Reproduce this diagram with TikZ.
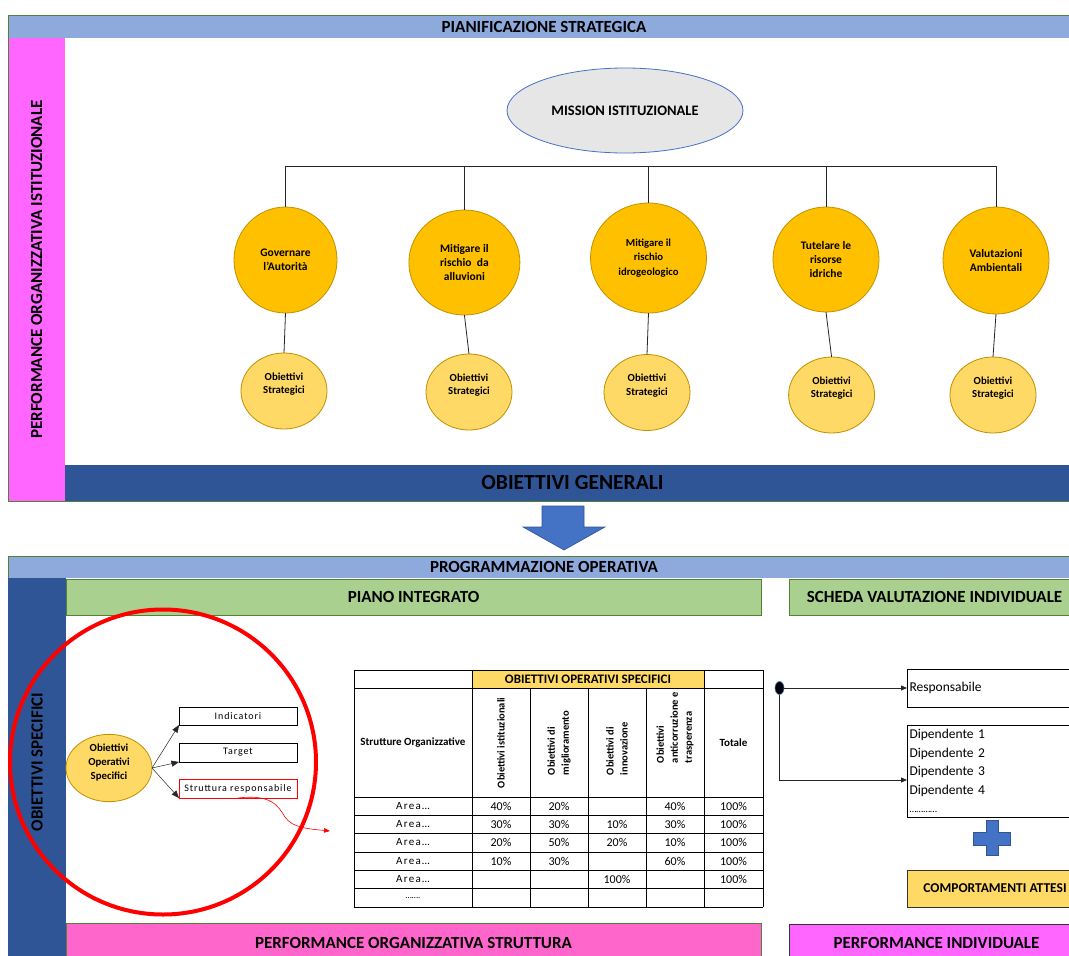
\documentclass[tikz,border=0pt]{standalone}
\usepackage{fontspec}
\setmainfont{Carlito}
\usetikzlibrary{arrows.meta,shapes.geometric,calc}
\definecolor{hdrblue}{HTML}{8EA9DB}
\definecolor{pinkbar}{HTML}{FF66FF}
\definecolor{darkblue}{HTML}{2F5597}
\definecolor{gold}{HTML}{FFC000}
\definecolor{goldline}{HTML}{BF9000}
\definecolor{lightgold}{HTML}{FFD966}
\definecolor{mgray}{HTML}{E7E6E6}
\definecolor{midblue}{HTML}{4472C4}
\definecolor{lgreen}{HTML}{A9D08E}
\definecolor{dgreen}{HTML}{548235}
\definecolor{pinktwo}{HTML}{FF66CC}
\tikzset{
  bar/.style={inner sep=0pt, align=center, text=black, font=\bfseries\fontsize{17}{20}\selectfont},
  bigc/.style={ellipse, draw=goldline, fill=gold, line width=0.8, inner sep=0pt, align=center, font=\bfseries\fontsize{11.5}{14.3}\selectfont},
  smallc/.style={ellipse, draw=goldline, fill=lightgold, line width=0.8, inner sep=0pt, align=center, minimum width=86, minimum height=76, font=\bfseries\fontsize{10.8}{13.7}\selectfont},
  conn/.style={draw=black!85, line width=0.8},
  tip/.style={-{Triangle[length=6pt,width=5pt]}},
  bigtip/.style={-{Triangle[length=7.5pt,width=6pt]}},
  smallbox/.style={draw=black, line width=0.8, minimum width=118, minimum height=18, font=\fontsize{10}{12}\selectfont\addfontfeature{LetterSpace=9}},
  tbl/.style={draw=black, line width=0.8},
  areat/.style={font=\fontsize{11}{13}\selectfont\addfontfeature{LetterSpace=12}},
  pct/.style={font=\fontsize{12}{14}\selectfont},
  thead/.style={font=\bfseries\fontsize{11}{13}\selectfont, align=center},
  rothead/.style={rotate=90, anchor=west, align=left, font=\bfseries\fontsize{10.5}{14}\selectfont},
  rbox/.style={draw=black, line width=0.8, text width=165, inner xsep=2.5pt, inner ysep=0pt, align=left, font=\fontsize{13.5}{18.5}\selectfont}
}
\begin{document}
\begin{tikzpicture}[x=1pt,y=-1pt, every node/.style={inner sep=0pt, outer sep=0pt}]
\useasboundingbox (0,0) rectangle (1069,956);
\clip (0,0) rectangle (1069,956);
\fill[white] (0,0) rectangle (1069,956);

% ---------- top section ----------
\node[bar, fill=hdrblue, minimum width=1072, minimum height=23] (pianif) at (544,26.5) {PIANIFICAZIONE STRATEGICA};
\node[bar, fill=pinkbar, rotate=90, minimum width=463, minimum height=57] (poi) at (36.5,269.5) {PERFORMANCE ORGANIZZATIVA ISTITUZIONALE};
\node[bar, fill=darkblue, minimum width=1015, minimum height=36, font=\bfseries\fontsize{21.5}{25}\selectfont] (obgen) at (572.5,483) {OBIETTIVI GENERALI};
\draw[dgreen, line width=0.8] (8,15) rectangle (1080,501);

\node[ellipse, draw=midblue, fill=mgray, line width=0.8, minimum width=236, minimum height=85, font=\bfseries\fontsize{14.5}{17}\selectfont] (mission) at (625,110.5) {MISSION ISTITUZIONALE};

\node[bigc, minimum width=103, minimum height=106] (g1) at (285.5,260) {Governare\\l'Autorità};
\node[bigc, minimum width=111, minimum height=105] (g2) at (464.4,262.5) {Mitigare il\\rischio\ \ da\\alluvioni};
\node[bigc, minimum width=116, minimum height=110, font=\bfseries\fontsize{10.7}{14.2}\selectfont] (g3) at (648.5,258) {Mitigare il\\rischio\\idrogeologico};
\node[bigc, minimum width=106, minimum height=105] (g4) at (826,259.5) {Tutelare le\\risorse\\idriche};
\node[bigc, minimum width=106, minimum height=107] (g5) at (996,260.5) {Valutazioni\\Ambientali};

\node[smallc] (s1) at (284,391) {Obiettivi\\Strategici\\[2pt]\mbox{}};
\node[smallc] (s2) at (469,392) {Obiettivi\\Strategici\\[2pt]\mbox{}};
\node[smallc] (s3) at (647,392.5) {Obiettivi\\Strategici\\[2pt]\mbox{}};
\node[smallc] (s4) at (831.6,395) {Obiettivi\\Strategici\\[2pt]\mbox{}};
\node[smallc] (s5) at (993,395) {Obiettivi\\Strategici\\[2pt]\mbox{}};

\coordinate (bus1) at (286,166);
\coordinate (bus5) at (996,166);
\draw[conn] (bus1) -- (bus5);
\foreach \g in {g1,g2,g3,g4,g5} { \draw[conn] (\g.north) -- (\g.north |- bus1); }
\draw[conn] (g1.south) -- (s1.north);
\draw[conn] (g2.south) -- (s2.north);
\draw[conn] (g3.south) -- (s3.north);
\draw[conn] (g4.south) -- (s4.north);
\draw[conn] (g5.south) -- (s5.north);

% ---------- arrow ----------
\filldraw[fill=midblue, draw=darkblue, line width=0.6] (542,506) -- (584,506) -- (584,527) -- (605,527) -- (564,550) -- (523,527) -- (542,527) -- cycle;

% ---------- bottom section ----------
\node[bar, fill=hdrblue, minimum width=1072, minimum height=22] (progop) at (544,567) {PROGRAMMAZIONE OPERATIVA};
\draw[dgreen, line width=0.8] (1080,556) -- (8,556) -- (8,960);
\node[fill=darkblue, minimum width=58, minimum height=385] (osbar) at (37,770.5) {};
\node[bar, rotate=90] (ostext) at (37,762) {OBIETTIVI SPECIFICI};

\node[bar, fill=lgreen, draw=dgreen, line width=0.6, minimum width=695, minimum height=36] (piano) at (413.5,597) {PIANO INTEGRATO};
\node[bar, fill=lgreen, draw=dgreen, line width=0.6, minimum width=291, minimum height=36] (scheda) at (934.5,597) {SCHEDA VALUTAZIONE INDIVIDUALE};
\node[bar, fill=pinktwo, draw=dgreen, line width=0.6, minimum width=695, minimum height=40] (pos) at (413.5,943) {PERFORMANCE ORGANIZZATIVA STRUTTURA};
\node[bar, fill=pinkbar, draw=black!80, line width=0.8, minimum width=295, minimum height=38] (pind) at (936.5,943) {PERFORMANCE INDIVIDUALE};

% left cluster
\node[ellipse, draw=goldline, fill=lightgold, line width=0.8, minimum width=86, minimum height=63, align=center, font=\bfseries\fontsize{10.8}{14}\selectfont] (oos) at (109,768) {Obiettivi\\Operativi\\Specifici\\[-2pt]\mbox{}};
\node[smallbox] (ind) at (238,716) {Indicatori};
\node[smallbox, minimum height=19] (tgt) at (238,752.5) {Target};
\node[smallbox, draw=red, minimum height=19] (sr) at (238,788.5) {Struttura responsabile};
\draw[conn, line width=0.5, bigtip] (oos.east) -- (ind.south west);
\draw[conn, line width=0.5, bigtip] (oos.east) -- (tgt.south west);
\draw[conn, line width=0.5, bigtip] (oos.east) -- (sr.south west);
\coordinate (redend) at (330,831);
\draw[red, line width=0.6, -{Triangle[length=6pt,width=4.5pt]}] (sr.south) .. controls (272,794) and (278,806) .. (285,817) .. controls (292,828) and (310,829) .. (redend);
\node[ellipse, draw=red, line width=4pt, minimum width=306, minimum height=305] (redring) at (163,762) {};

% table
\node[fill=lightgold, minimum width=232, minimum height=18, font=\bfseries\fontsize{13}{15}\selectfont] (ooshead) at (588,679) {OBIETTIVI OPERATIVI SPECIFICI};
\foreach \yy in {670,688,797,815,833,852,870,888,907} { \draw[tbl] (354,\yy) -- (763,\yy); }
\foreach \xx in {354,472,704,763} { \draw[tbl] (\xx,670) -- (\xx,907); }
\foreach \xx in {530,588,646} { \draw[tbl] (\xx,688) -- (\xx,907); }
\node[thead] (strorg) at (413,742.5) {Strutture Organizzative};
\node[thead] (totale) at (733.5,742.5) {Totale};
\node[rothead] (h1) at (501,788) {Obiettivi istituzionali};
\node[rothead] (h2) at (559,775) {Obiettivi di\\miglioramento};
\node[rothead] (h3) at (617,775) {Obiettivi di\\innovazione};
\node[rothead] (h4) at (675,763) {Obiettivi\\anticorruzione e\\trasperenza};
\foreach \yy/\p/\q/\s/\t [count=\i] in {806/40\%/20\%/{}/40\%, 824/30\%/30\%/10\%/30\%, 842.5/20\%/50\%/20\%/10\%, 861/10\%/30\%/{}/60\%, 879/{}/{}/100\%/{}} {
  \node[areat] (area\i) at (413,\yy) {Area…};
  \node[pct] (pa\i) at (501,\yy) {\p};
  \node[pct] (pb\i) at (559,\yy) {\q};
  \node[pct] (pc\i) at (617,\yy) {\s};
  \node[pct] (pd\i) at (675,\yy) {\t};
  \node[pct] (pt\i) at (733.5,\yy) {100\%};
}
\node[font=\fontsize{9}{11}\selectfont] (tdots) at (413,898) {…….};

% right side
\node[rbox, anchor=west, minimum height=38] (resp) at (907,688) {Responsabile};
\node[rbox, anchor=west, minimum height=92] (dip) at (907,771) {Dipendente 1\\Dipendente 2\\Dipendente 3\\Dipendente 4\\{\fontsize{10}{12}\selectfont …………}};
\coordinate (dipin) at (907,780);
\node[ellipse, fill=black, draw=midblue, line width=0.6, minimum width=9, minimum height=13] (dot) at (779.5,688) {};
\draw[conn, tip] (dot) -- (resp.west);
\draw[conn, tip] (dot.south) |- (dipin);
\filldraw[fill=midblue, draw=darkblue, line width=0.6] (986,820) -- (998,820) -- (998,832) -- (1010,832) -- (1010,845) -- (998,845) -- (998,855) -- (986,855) -- (986,845) -- (973,845) -- (973,832) -- (986,832) -- cycle;
\node[fill=lightgold, draw=black!80, line width=0.8, minimum width=176, minimum height=37, font=\bfseries\fontsize{13.5}{16}\selectfont] (comp) at (995,888.5) {COMPORTAMENTI ATTESI};
\end{tikzpicture}
\end{document}
